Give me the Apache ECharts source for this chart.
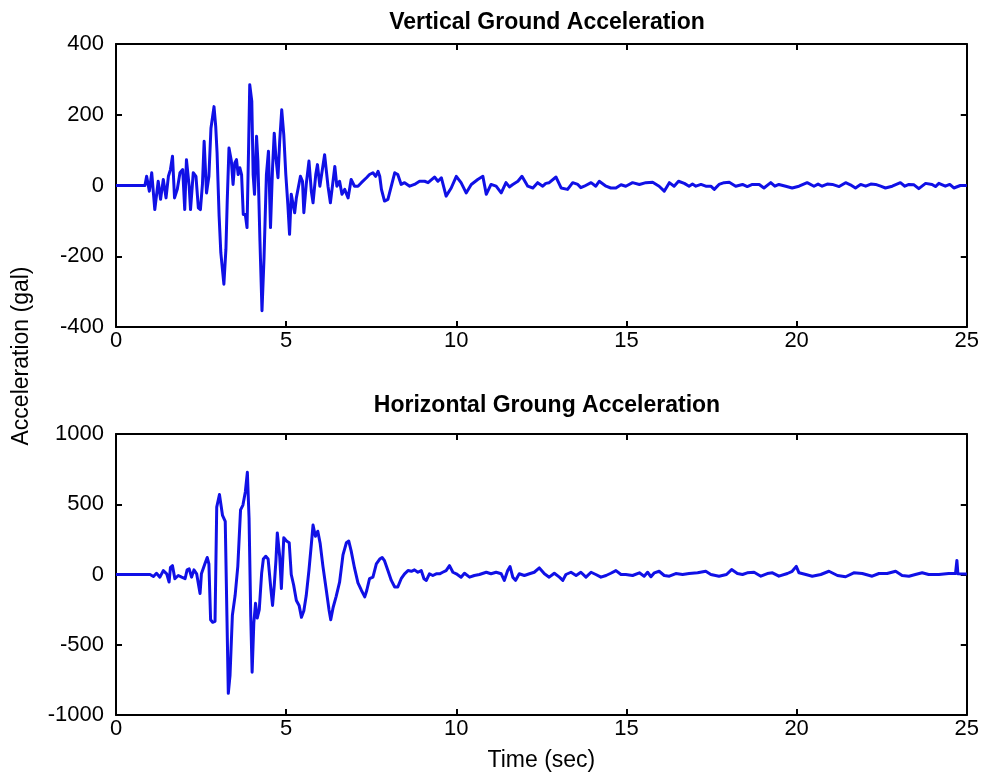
<!DOCTYPE html>
<html>
<head>
<meta charset="utf-8">
<title>Ground Acceleration Records</title>
<script src="https://cdn.jsdelivr.net/npm/echarts@6/dist/echarts.min.js"></script>
<style>
  html, body { margin: 0; padding: 0; background: #ffffff; }
  #chart { width: 982px; height: 773px; }
</style>
</head>
<body>
<div id="chart"></div>
<script>
// Time axis ticks (sec)
var timeTicks = [0, 5, 10, 15, 20, 25];
var vertTicks = [-400, -200, 0, 200, 400];
var horizTicks = [-1000, -500, 0, 500, 1000];

// Vertical component: [time (sec), acceleration (gal)]
var vertRecord = [
  [0, 0], [0.70, 0], [0.85, 0], [0.90, 26], [0.98, -16], [1.05, 36], [1.14, -68], [1.24, 12],
  [1.31, -39], [1.39, 17], [1.47, -35], [1.54, 26], [1.60, 45], [1.66, 83], [1.72, -35], [1.80, -11],
  [1.88, 36], [1.96, 45], [2.02, -68], [2.07, 73], [2.15, -2], [2.19, -68], [2.27, 36], [2.35, 26],
  [2.42, -63], [2.48, -68], [2.54, 3], [2.59, 125], [2.66, -21], [2.73, 26], [2.79, 162], [2.88, 223],
  [2.93, 167], [2.97, 92], [3.03, -86], [3.08, -190], [3.17, -279], [3.23, -180], [3.27, -39], [3.32, 106],
  [3.39, 69], [3.44, 3], [3.49, 64], [3.54, 73], [3.59, 31], [3.64, 50], [3.69, 31], [3.74, -82],
  [3.80, -82], [3.85, -119], [3.90, 125], [3.93, 285], [3.99, 238], [4.03, 31], [4.07, -25], [4.13, 139],
  [4.17, 69], [4.23, -157], [4.29, -354], [4.35, -204], [4.42, 31], [4.48, 97], [4.54, -119], [4.60, 50],
  [4.65, 148], [4.70, 78], [4.76, 22], [4.81, 125], [4.87, 214], [4.93, 144], [4.99, 31], [5.05, -54],
  [5.10, -138], [5.15, -25], [5.20, -21], [5.25, -77], [5.30, -35], [5.35, -35], [5.42, 26], [5.48, 12],
  [5.52, -77], [5.59, 3], [5.67, 69], [5.74, -16], [5.79, -49], [5.87, 31], [5.92, 59], [5.99, -2],
  [6.03, -7], [6.13, 87], [6.23, -2], [6.30, -49], [6.43, 54], [6.49, -2], [6.57, 12], [6.64, -25],
  [6.72, -11], [6.82, -35], [6.91, 17], [7.01, -2], [7.11, -2], [7.21, 8], [7.36, 22], [7.45, 31],
  [7.55, 36], [7.63, 26], [7.70, 40], [7.75, 26], [7.80, -11], [7.89, -44], [7.99, -39], [8.09, -2],
  [8.19, 36], [8.28, 31], [8.38, 3], [8.48, 8], [8.63, -2], [8.77, 3], [8.92, 12], [9.07, 12],
  [9.17, 8], [9.36, 24], [9.46, 12], [9.56, 22], [9.70, -30], [9.85, -7], [10.00, 26], [10.14, 8],
  [10.29, -21], [10.44, 3], [10.63, 17], [10.78, 26], [10.88, -25], [11.02, 3], [11.17, -2], [11.32, -21],
  [11.46, 8], [11.56, -4], [11.66, 3], [11.81, 12], [11.93, 26], [12.10, -2], [12.25, -7], [12.39, 8],
  [12.54, -2], [12.63, 6], [12.73, 8], [12.93, 24], [13.08, -7], [13.27, -11], [13.42, 8], [13.57, 3],
  [13.66, -6], [13.76, -2], [13.96, 8], [14.10, -2], [14.20, 12], [14.40, -2], [14.54, -7], [14.69, -7],
  [14.84, 2], [14.98, -2], [15.18, 8], [15.38, 3], [15.57, 8], [15.77, 9], [15.96, -2], [16.11, -16],
  [16.26, 8], [16.40, -2], [16.53, 12], [16.70, 6], [16.84, -2], [16.94, 4], [17.04, -2], [17.19, 3],
  [17.33, -2], [17.48, -2], [17.58, -11], [17.72, 3], [17.87, 8], [18.02, 9], [18.21, -2], [18.41, 3],
  [18.55, -3], [18.70, 3], [18.90, 3], [19.04, -7], [19.24, 8], [19.36, -2], [19.48, 3], [19.68, -2],
  [19.87, -7], [20.07, -2], [20.31, 8], [20.51, -2], [20.63, 4], [20.75, -2], [20.90, 4], [21.05, 3],
  [21.25, -3], [21.44, 8], [21.58, 2], [21.73, -7], [21.88, 3], [22.03, -2], [22.18, 4], [22.32, 3],
  [22.47, -2], [22.61, -7], [22.81, -2], [23.05, 8], [23.18, -2], [23.30, 3], [23.45, 2], [23.59, -9],
  [23.79, 6], [23.98, 3], [24.08, -3], [24.18, 6], [24.37, -2], [24.50, 3], [24.62, -7], [24.81, 0],
  [25.0, 0]
];

// Horizontal component: [time (sec), acceleration (gal)]
var horizRecord = [
  [0, 0], [1.00, 0], [1.10, -14], [1.19, 9], [1.29, -19], [1.39, 28], [1.49, 5], [1.56, -54],
  [1.60, 51], [1.66, 63], [1.73, -30], [1.83, -7], [1.93, -19], [2.03, -30], [2.09, 33], [2.15, 40],
  [2.22, -19], [2.29, 33], [2.37, 5], [2.42, -65], [2.47, -135], [2.51, 5], [2.61, 75], [2.68, 121],
  [2.73, 75], [2.78, -322], [2.84, -340], [2.91, -333], [2.96, 480], [3.04, 569], [3.13, 420], [3.21, 378],
  [3.26, -300], [3.30, -846], [3.35, -720], [3.42, -290], [3.50, -150], [3.58, 60], [3.66, 460], [3.73, 494],
  [3.80, 587], [3.86, 727], [3.91, 400], [3.96, -300], [4.00, -695], [4.05, -345], [4.10, -205], [4.15, -310],
  [4.21, -250], [4.28, 10], [4.33, 110], [4.40, 130], [4.47, 110], [4.55, -100], [4.60, -220], [4.65, -80],
  [4.70, 100], [4.74, 296], [4.81, 130], [4.86, -100], [4.93, 261], [5.01, 238], [5.09, 226], [5.15, 0],
  [5.22, -75], [5.30, -185], [5.38, -220], [5.45, -305], [5.52, -258], [5.59, -150], [5.67, 30], [5.74, 214],
  [5.79, 352], [5.86, 272], [5.93, 308], [6.00, 220], [6.08, 60], [6.18, -112], [6.26, -252], [6.31, -322],
  [6.38, -235], [6.47, -155], [6.57, -55], [6.67, 140], [6.77, 226], [6.84, 238], [6.91, 168], [7.01, 45],
  [7.11, -60], [7.21, -112], [7.31, -159], [7.37, -112], [7.45, -30], [7.55, -19], [7.65, 75], [7.75, 110],
  [7.82, 121], [7.89, 98], [7.99, 28], [8.09, -42], [8.19, -89], [8.28, -89], [8.38, -30], [8.48, 5],
  [8.58, 28], [8.68, 23], [8.77, 33], [8.87, 16], [8.97, 28], [9.05, -30], [9.12, -42], [9.21, 5],
  [9.31, -7], [9.41, 5], [9.51, 5], [9.60, 16], [9.70, 28], [9.80, 63], [9.90, 16], [10.00, 5],
  [10.14, -19], [10.24, 9], [10.39, -19], [10.53, -7], [10.68, 0], [10.88, 16], [11.02, 5], [11.17, 16],
  [11.32, 5], [11.41, -42], [11.51, 28], [11.58, 56], [11.66, -19], [11.74, -42], [11.85, 5], [12.00, -7],
  [12.15, 5], [12.29, 16], [12.44, 47], [12.59, 5], [12.73, -19], [12.88, 9], [13.03, -19], [13.13, -42],
  [13.22, 0], [13.37, 16], [13.52, -7], [13.66, 16], [13.81, -19], [13.96, 16], [14.10, 0], [14.25, -19],
  [14.40, -7], [14.54, 9], [14.69, 28], [14.84, 0], [14.98, 0], [15.18, -7], [15.38, 12], [15.52, -12],
  [15.62, 16], [15.72, -16], [15.82, 12], [15.96, 23], [16.11, -7], [16.26, -12], [16.45, 7], [16.65, 0],
  [16.84, 7], [17.09, 12], [17.33, 23], [17.48, 0], [17.72, -12], [17.94, 0], [18.09, 35], [18.26, 7],
  [18.41, 0], [18.55, 12], [18.75, 16], [18.95, -12], [19.14, 7], [19.29, 12], [19.48, -12], [19.73, 7],
  [19.87, 23], [19.99, 58], [20.07, 12], [20.27, 0], [20.46, -12], [20.71, 0], [20.95, 23], [21.20, -7],
  [21.44, -16], [21.68, 12], [21.93, 7], [22.22, -12], [22.42, 7], [22.66, 7], [22.91, 23], [23.10, -7],
  [23.30, -12], [23.49, 0], [23.69, 12], [23.88, 0], [24.18, 0], [24.47, 7], [24.67, 7], [24.71, 100],
  [24.74, 5], [25.0, 3]
];

var FONT = 'Liberation Sans, Arial, Helvetica, sans-serif';
var LINE_BLUE = '#1010e6';

function frameAxis(extra) {
  var base = {
    type: 'value',
    axisLine: { show: true, onZero: false, lineStyle: { color: '#000', width: 2 } },
    axisTick: { show: true, inside: true, length: 6, lineStyle: { color: '#000', width: 2 } },
    splitLine: { show: false },
    axisLabel: { show: false }
  };
  return Object.assign(base, extra);
}

// Plain integer tick labels (no thousands separators)
function labelStyle(margin) {
  return {
    show: true, color: '#000', fontSize: 22, fontFamily: FONT, margin: margin,
    formatter: function (v) { return String(v); }
  };
}

var chart = echarts.init(document.getElementById('chart'), null, { renderer: 'canvas' });

chart.setOption({
  backgroundColor: '#ffffff',
  animation: false,
  title: [
    {
      text: 'Vertical Ground Acceleration',
      left: 542, top: 6, textAlign: 'center',
      textStyle: { fontFamily: FONT, fontSize: 23, fontWeight: 'bold', color: '#000' }
    },
    {
      text: 'Horizontal Groung Acceleration',
      left: 542, top: 389, textAlign: 'center',
      textStyle: { fontFamily: FONT, fontSize: 23, fontWeight: 'bold', color: '#000' }
    }
  ],
  grid: [
    { left: 116, top: 44, width: 852, height: 283 },
    { left: 116, top: 434, width: 852, height: 282 }
  ],
  xAxis: [
    frameAxis({ gridIndex: 0, position: 'bottom', min: timeTicks[0], max: timeTicks[timeTicks.length - 1], interval: 5,
      axisLabel: labelStyle(3) }),
    frameAxis({ gridIndex: 0, position: 'top', min: timeTicks[0], max: timeTicks[timeTicks.length - 1], interval: 5 }),
    frameAxis({ gridIndex: 1, position: 'bottom', min: timeTicks[0], max: timeTicks[timeTicks.length - 1], interval: 5,
      axisLabel: labelStyle(3),
      name: 'Time (sec)', nameLocation: 'middle', nameGap: 34,
      nameTextStyle: { color: '#000', fontSize: 23, fontFamily: FONT } }),
    frameAxis({ gridIndex: 1, position: 'top', min: timeTicks[0], max: timeTicks[timeTicks.length - 1], interval: 5 })
  ],
  yAxis: [
    frameAxis({ gridIndex: 0, position: 'left', min: vertTicks[0], max: vertTicks[vertTicks.length - 1], interval: 200,
      axisLabel: labelStyle(12) }),
    frameAxis({ gridIndex: 0, position: 'right', min: vertTicks[0], max: vertTicks[vertTicks.length - 1], interval: 200 }),
    frameAxis({ gridIndex: 1, position: 'left', min: horizTicks[0], max: horizTicks[horizTicks.length - 1], interval: 500,
      axisLabel: labelStyle(12) }),
    frameAxis({ gridIndex: 1, position: 'right', min: horizTicks[0], max: horizTicks[horizTicks.length - 1], interval: 500 })
  ],
  graphic: [
    {
      type: 'text',
      x: 22, y: 356,
      rotation: Math.PI / 2,
      style: {
        text: 'Acceleration (gal)',
        fill: '#000',
        font: '23px ' + FONT,
        textAlign: 'center',
        textVerticalAlign: 'middle'
      }
    }
  ],
  series: [
    {
      type: 'line', xAxisIndex: 0, yAxisIndex: 0,
      data: vertRecord, showSymbol: false, smooth: false,
      lineStyle: { color: LINE_BLUE, width: 3, join: 'round' }
    },
    {
      type: 'line', xAxisIndex: 2, yAxisIndex: 2,
      data: horizRecord, showSymbol: false, smooth: false,
      lineStyle: { color: LINE_BLUE, width: 3, join: 'round' }
    }
  ]
});
</script>
</body>
</html>
